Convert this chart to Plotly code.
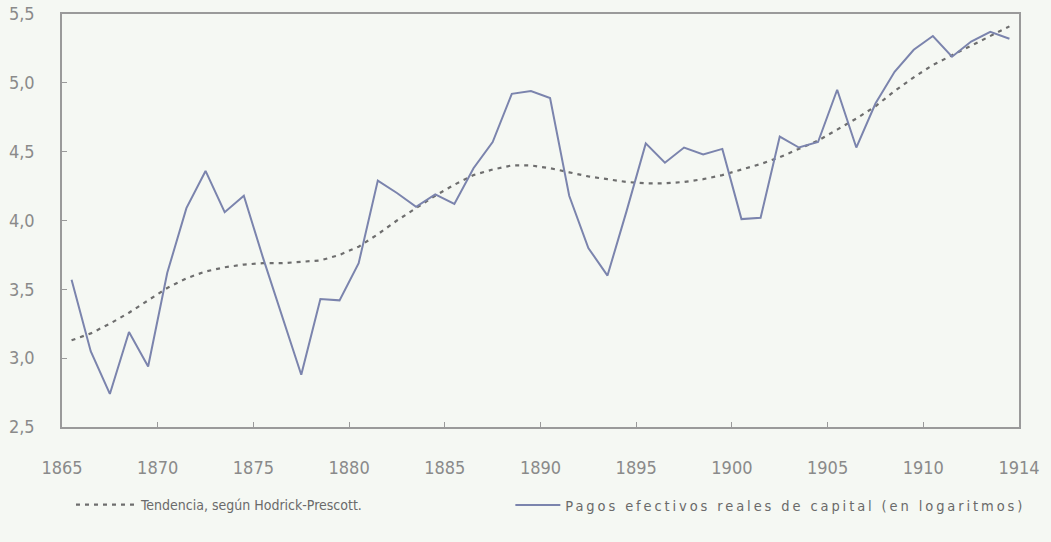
import plotly.graph_objects as go

years = list(range(1865, 1915))
pagos = [3.57, 3.05, 2.74, 3.19, 2.94, 3.62, 4.09, 4.36, 4.06, 4.18,
         3.73, 3.31, 2.88, 3.43, 3.42, 3.69, 4.29, 4.20, 4.10, 4.19,
         4.12, 4.38, 4.57, 4.92, 4.94, 4.89, 4.18, 3.80, 3.60, 4.07,
         4.56, 4.42, 4.53, 4.48, 4.52, 4.01, 4.02, 4.61, 4.53, 4.57,
         4.95, 4.53, 4.85, 5.08, 5.24, 5.34, 5.19, 5.30, 5.37, 5.32]
tendencia = [3.13, 3.18, 3.25, 3.33, 3.42, 3.51, 3.58, 3.63, 3.66, 3.68,
             3.69, 3.69, 3.70, 3.71, 3.75, 3.81, 3.90, 4.00, 4.09, 4.18,
             4.26, 4.33, 4.37, 4.40, 4.40, 4.38, 4.35, 4.32, 4.30, 4.28,
             4.27, 4.27, 4.28, 4.30, 4.33, 4.37, 4.41, 4.46, 4.52, 4.58,
             4.66, 4.74, 4.83, 4.94, 5.04, 5.13, 5.20, 5.27, 5.34, 5.41]
x_tickvals = [1865, 1870, 1875, 1880, 1885, 1890, 1895, 1900, 1905, 1910, 1915]
x_ticktext = ["1865", "1870", "1875", "1880", "1885", "1890", "1895", "1900", "1905", "1910", "1914"]
y_tickvals = [2.5, 3.0, 3.5, 4.0, 4.5, 5.0, 5.5]

xs = [y + 0.5 for y in years]

FONT = "DejaVu Sans Condensed, Liberation Sans Narrow, sans-serif"
BG = "#f5f8f3"

fig = go.Figure()
fig.add_trace(go.Scatter(
    x=xs, y=tendencia, mode="lines",
    name="Tendencia, según Hodrick-Prescott.",
    line=dict(color="#6e6e6e", width=2.2, dash="4px,5px"),
    legend="legend",
))
fig.add_trace(go.Scatter(
    x=xs, y=pagos, mode="lines",
    name='<span style="letter-spacing:2.9px">Pagos efectivos reales de capital (en logaritmos)</span>',
    line=dict(color="#7b84ad", width=2),
    legend="legend2",
))

fig.update_layout(
    width=1051, height=542,
    margin=dict(l=62, r=32, t=14, b=115, autoexpand=False),
    paper_bgcolor=BG, plot_bgcolor=BG,
    separators=",.",
    font=dict(family=FONT, size=14, color="#7f7f7f"),
    showlegend=True,
    legend=dict(
        orientation="h", x=0.0094, xanchor="left", y=-0.15, yanchor="top",
        bgcolor="rgba(0,0,0,0)",
        font=dict(family=FONT, size=14, color="#6a6a6a"),
        itemwidth=60,
    ),
    legend2=dict(
        orientation="h", x=0.4685, xanchor="left", y=-0.15, yanchor="top",
        bgcolor="rgba(0,0,0,0)",
        font=dict(family=FONT, size=14.5, color="#6a6a6a"),
        itemwidth=45,
    ),
)
fig.update_xaxes(
    range=[1865, 1915], tickvals=x_tickvals, ticktext=x_ticktext,
    showgrid=False, zeroline=False, automargin=False,
    showline=True, linecolor="#9a9a9a", linewidth=1.5, mirror=True,
    ticks="inside", ticklen=5, tickcolor="#9a9a9a", tickwidth=1,
    ticklabelstandoff=24,
    tickfont=dict(family=FONT, size=18, color="#8a8a8a"),
)
fig.update_yaxes(
    range=[2.5, 5.5], tickvals=y_tickvals, tickformat=".1f",
    showgrid=False, zeroline=False, automargin=False,
    showline=True, linecolor="#9a9a9a", linewidth=1.5, mirror=True,
    ticks="inside", ticklen=5, tickcolor="#9a9a9a", tickwidth=1,
    ticklabelstandoff=22,
    tickfont=dict(family=FONT, size=18, color="#8a8a8a"),
)

fig.write_html(
    "out.html",
    config={"displayModeBar": False},
    post_script="document.body.style.margin='0';document.body.style.background='%s';" % BG,
)
